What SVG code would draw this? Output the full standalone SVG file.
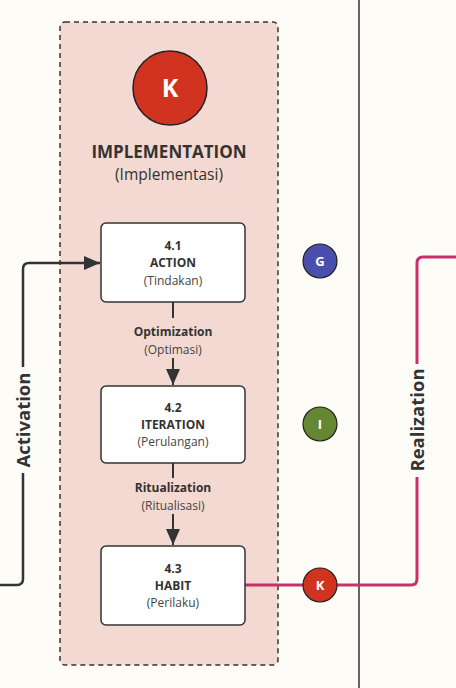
<svg xmlns="http://www.w3.org/2000/svg" width="456" height="688" viewBox="0 0 456 688">
<defs>
<style>
.t{font-family:"Open Sans","Noto Sans","Liberation Sans",sans-serif;text-anchor:middle;fill:#333}
.b{font-weight:bold;font-size:12px}
.s{font-size:12px;fill:#444}
.box{fill:#fff;stroke:#333;stroke-width:1.5}
.dk{fill:none;stroke:#333;stroke-width:2.5}
.mg{fill:none;stroke:#c9306a;stroke-width:3}
.badge{stroke:#222;stroke-width:1.2}
.bl{font-family:"Open Sans","Noto Sans","Liberation Sans",sans-serif;font-weight:bold;fill:#fff;text-anchor:middle}
</style>
<marker id="ah2" markerWidth="16" markerHeight="14" refX="16" refY="7" orient="auto" markerUnits="userSpaceOnUse" viewBox="0 0 16 14">
<path d="M0,0 L16,7 L0,14 z" fill="#333"/>
</marker>
</defs>
<rect width="456" height="688" fill="#fdfcf7"/>
<line x1="359" y1="0" x2="359" y2="688" stroke="#333" stroke-width="1.5"/>
<g id="container">
<rect x="60" y="22" width="218" height="643" rx="5" fill="#f3d9d1" stroke="#333" stroke-width="1.5" stroke-dasharray="5,4"/>
<circle cx="170" cy="88" r="37" fill="#d03320" stroke="#222" stroke-width="1.5"/>
<text class="bl" x="170" y="97" font-size="25">K</text>
<text class="t" x="169" y="158" font-size="17" font-weight="bold" fill="#222">IMPLEMENTATION</text>
<text class="t" x="169" y="180" font-size="15.5" fill="#333">(Implementasi)</text>
</g>
<g id="connectors">
<path class="dk" d="M0,585 H17 Q23,585 23,579 V473"/>
<path class="dk" d="M23,367 V269 Q23,263 29,263 H100" marker-end="url(#ah2)"/>
<line x1="173" y1="302" x2="173" y2="318" stroke="#333" stroke-width="2"/>
<line x1="173" y1="358" x2="173" y2="385" stroke="#333" stroke-width="2" marker-end="url(#ah2)"/>
<line x1="173" y1="463" x2="173" y2="478" stroke="#333" stroke-width="2"/>
<line x1="173" y1="514" x2="173" y2="545" stroke="#333" stroke-width="2" marker-end="url(#ah2)"/>
<path class="mg" d="M245,585 H411 Q417,585 417,579 V477"/>
<path class="mg" d="M417,364 V263 Q417,257 423,257 H456"/>
<text class="t" transform="translate(30,420) rotate(-90)" font-size="18.5" font-weight="bold" fill="#333">Activation</text>
<text class="t" transform="translate(424,420) rotate(-90)" font-size="18.5" font-weight="bold" fill="#333">Realization</text>
<text class="t b" x="173" y="336">Optimization</text>
<text class="t s" x="173" y="354">(Optimasi)</text>
<text class="t b" x="173" y="492">Ritualization</text>
<text class="t s" x="173" y="510">(Ritualisasi)</text>
</g>
<g id="n41">
<rect class="box" x="101" y="223" width="144" height="79" rx="5"/>
<text class="t b" x="173" y="250">4.1</text>
<text class="t b" x="173" y="267">ACTION</text>
<text class="t s" x="173" y="285">(Tindakan)</text>
</g>
<g id="n42">
<rect class="box" x="101" y="386" width="144" height="77" rx="5"/>
<text class="t b" x="173" y="412">4.2</text>
<text class="t b" x="173" y="429">ITERATION</text>
<text class="t s" x="173" y="446">(Perulangan)</text>
</g>
<g id="n43">
<rect class="box" x="101" y="546" width="144" height="79" rx="5"/>
<text class="t b" x="173" y="573">4.3</text>
<text class="t b" x="173" y="590">HABIT</text>
<text class="t s" x="173" y="607">(Perilaku)</text>
</g>
<g id="badgeG">
<circle class="badge" cx="320" cy="261" r="17" fill="#4a4fad"/>
<text class="bl" x="320" y="266" font-size="13">G</text>
</g>
<g id="badgeI">
<circle class="badge" cx="320" cy="424" r="17" fill="#658632"/>
<text class="bl" x="320" y="429" font-size="13">I</text>
</g>
<g id="badgeK">
<circle class="badge" cx="320" cy="585" r="17" fill="#d03320"/>
<text class="bl" x="320" y="590" font-size="13">K</text>
</g>
</svg>
